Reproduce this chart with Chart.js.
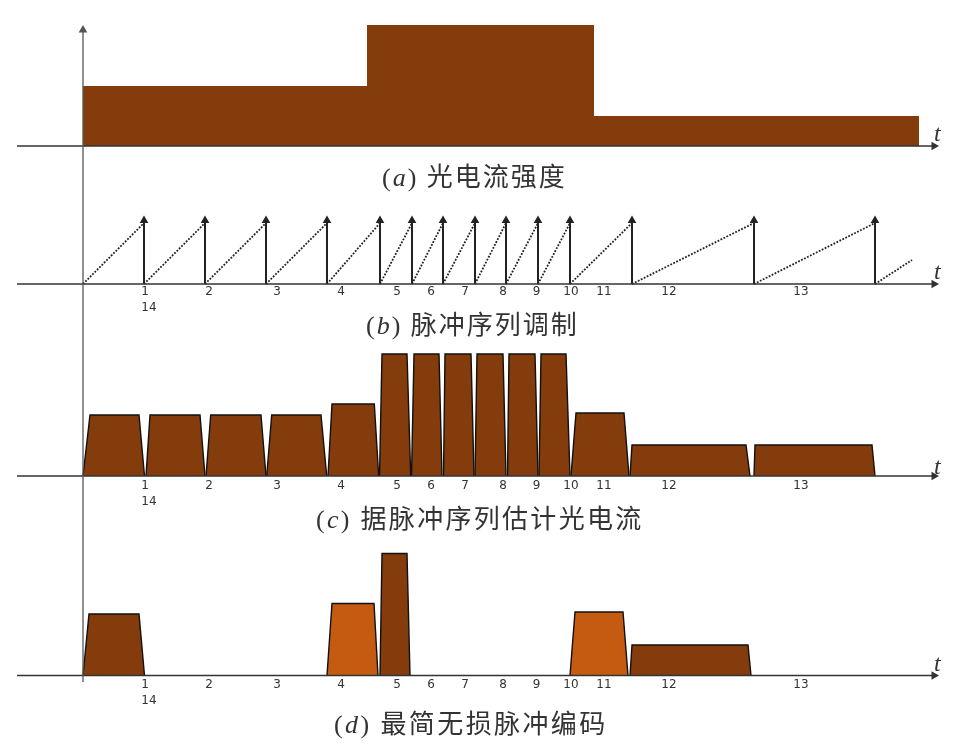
<!DOCTYPE html>
<html>
<head>
<meta charset="utf-8">
<style>
  body { margin: 0; background: #fff; width: 955px; height: 745px; overflow: hidden; position: relative; }
  canvas { position: absolute; left: 0; top: 0; }
  .cap { position: absolute; white-space: nowrap; color: #333; font: 26px/32px "Liberation Serif", "Noto Sans CJK SC", serif; letter-spacing: 2px; }
  .cap i, .tlabel { font-family: "Liberation Serif", serif; font-style: italic; }
  .tlabel { position: absolute; color: #333; font-size: 24px; line-height: 24px; }
</style>
</head>
<body>
<canvas id="chart" width="955" height="745"></canvas>
<div class="cap" style="left:382px;top:162px">(<i>a</i>) 光电流强度</div>
<div class="cap" style="left:366px;top:310px">(<i>b</i>) 脉冲序列调制</div>
<div class="cap" style="left:316px;top:504px;letter-spacing:2.3px">(<i>c</i>) 据脉冲序列估计光电流</div>
<div class="cap" style="left:334px;top:709px;letter-spacing:2.4px">(<i>d</i>) 最简无损脉冲编码</div>
<div class="tlabel" style="left:934px;top:121px">t</div>
<div class="tlabel" style="left:934px;top:259px">t</div>
<div class="tlabel" style="left:934px;top:454px">t</div>
<div class="tlabel" style="left:934px;top:651px">t</div>
<script src="https://cdn.jsdelivr.net/npm/chart.js@4"></script>
<script>
// (a) photocurrent intensity
const stepEdges = [0, 284, 511, 836];
const stepLevels = [60, 121, 30];

// (b) pulse train
const pulseTimes = [61, 122, 183, 244, 297, 329, 360, 392, 423, 455, 487, 549, 671, 792];
const pulseHeight = 63.5;
const rampStarts = [0, 61, 122, 183, 244, 297, 329, 360, 392, 423, 455, 487, 549, 671, 792];
const rampEnds = [61, 122, 183, 244, 297, 329, 360, 392, 423, 455, 487, 549, 671, 792, 829];
const rampTops = [61, 61, 61, 61, 61, 61, 61, 61, 61, 61, 61, 61, 61, 61, 24];

// (c) current estimated from the pulses
const estStart = [0, 63, 123, 183.7, 245, 296.5, 328.5, 360.5, 392, 424.5, 456, 488, 547, 671];
const estTopStart = [7, 67, 127.7, 188.7, 249, 299, 331, 362, 394, 426, 458, 493, 549, 672];
const estTopEnd = [56, 117, 178, 238, 291.3, 324, 356, 388, 420, 452, 483, 541, 663, 789];
const estEnd = [61.5, 122, 183, 243.7, 295.7, 327.7, 359, 391, 423, 455, 487, 546, 667, 792];
const estLevel = [61, 61, 61, 61, 72, 122, 122, 122, 122, 122, 122, 63, 31, 31];

// (d) simplest lossless pulse code
const codeStart = [0, 244, 297, 487, 547];
const codeTopStart = [6, 249, 299, 492, 549];
const codeTopEnd = [56, 291, 324, 540, 665];
const codeEnd = [61.5, 295, 327, 545, 668];
const codeLevel = [61.5, 72, 122, 63.5, 30.5];
const codeKind = ['dark', 'light', 'dark', 'light', 'dark'];

// tick labels under panels b, c, d
const tickValues = [66, 126, 194, 258, 314, 348, 382, 420, 453.5, 488, 521, 586, 718];
const tickLabels = [['1  ', '14'], '2', '3', '4', '5', '6', '7', '8', '9', '10', '11', '12', '13'];

const panels = ['a', 'b', 'c', 'd'];
const baselines = [146, 284, 476, 675.5];
const tickPadding = [0, 0, 2, 1];

const colors = { dark: '#843C0C', light: '#C55A11' };

// filled pulse shape, sits on the panel baseline
function trapezoid(panel, start, topStart, topEnd, end, level, color, outline) {
    return {
        xAxisID: 'x' + panel,
        yAxisID: 'y' + panel,
        data: [{ x: start, y: 0 }, { x: topStart, y: level }, { x: topEnd, y: level }, { x: end, y: 0 }],
        showLine: true,
        fill: 'origin',
        backgroundColor: color,
        borderColor: outline ? '#111' : color,
        borderWidth: outline ? 1.4 : 0,
        pointRadius: 0
    };
}

function arrowLine(panel, from, to, width, color, rotation) {
    return {
        xAxisID: 'x' + panel,
        yAxisID: 'y' + panel,
        data: [from, to],
        showLine: true,
        borderColor: color,
        backgroundColor: color,
        borderWidth: width,
        pointStyle: 'triangle',
        pointRotation: rotation,
        pointRadius: ctx => ctx.dataIndex === 1 ? 5 : 0,
        pointBorderWidth: 0
    };
}

const datasets = [];

// axes first so they stay on top of the fills
datasets.push(arrowLine('a', { x: 0, y: -536 }, { x: 0, y: 116 }, 1.3, '#555', 0));
panels.forEach(p => {
    datasets.push(arrowLine(p, { x: -66, y: 0 }, { x: 851, y: 0 }, 1.5, '#333', 90));
});

// panel a
stepLevels.forEach((level, i) => {
    datasets.push(trapezoid('a', stepEdges[i], stepEdges[i], stepEdges[i + 1], stepEdges[i + 1], level, colors.dark, false));
});

// panel b
pulseTimes.forEach(t => {
    datasets.push(arrowLine('b', { x: t, y: 0 }, { x: t, y: pulseHeight }, 2, '#222', 0));
});
rampStarts.forEach((s, i) => {
    datasets.push({
        xAxisID: 'xb',
        yAxisID: 'yb',
        data: [{ x: s, y: 0 }, { x: rampEnds[i], y: rampTops[i] }],
        showLine: true,
        borderColor: '#222',
        borderWidth: 1.8,
        borderDash: [1.8, 1.5],
        pointRadius: 0
    });
});

// panel c
estLevel.forEach((level, i) => {
    datasets.push(trapezoid('c', estStart[i], estTopStart[i], estTopEnd[i], estEnd[i], level, colors.dark, true));
});

// panel d
codeLevel.forEach((level, i) => {
    datasets.push(trapezoid('d', codeStart[i], codeTopStart[i], codeTopEnd[i], codeEnd[i], level, colors[codeKind[i]], true));
});

const scales = {};
panels.forEach((p, i) => {
    scales['y' + p] = { display: false, min: baselines[i] - 745, max: baselines[i] };
    scales['x' + p] = {
        type: 'linear',
        min: -83,
        max: 872,
        position: { ['y' + p]: 0 },
        grid: { display: false, drawTicks: false },
        border: { display: false },
        afterBuildTicks: scale => {
            scale.ticks = tickValues.map(value => ({ value }));
        },
        ticks: {
            display: p !== 'a',
            autoSkip: false,
            maxRotation: 0,
            padding: tickPadding[i],
            color: '#333',
            font: { family: '"DejaVu Sans"', size: 12, lineHeight: 1.35 },
            callback: (value, index) => tickLabels[index]
        }
    };
});

new Chart(document.getElementById('chart'), {
    type: 'scatter',
    data: { datasets },
    options: {
        responsive: false,
        animation: false,
        layout: { padding: 0, autoPadding: false },
        plugins: { legend: { display: false }, tooltip: { enabled: false } },
        scales
    }
});
</script>
</body>
</html>
